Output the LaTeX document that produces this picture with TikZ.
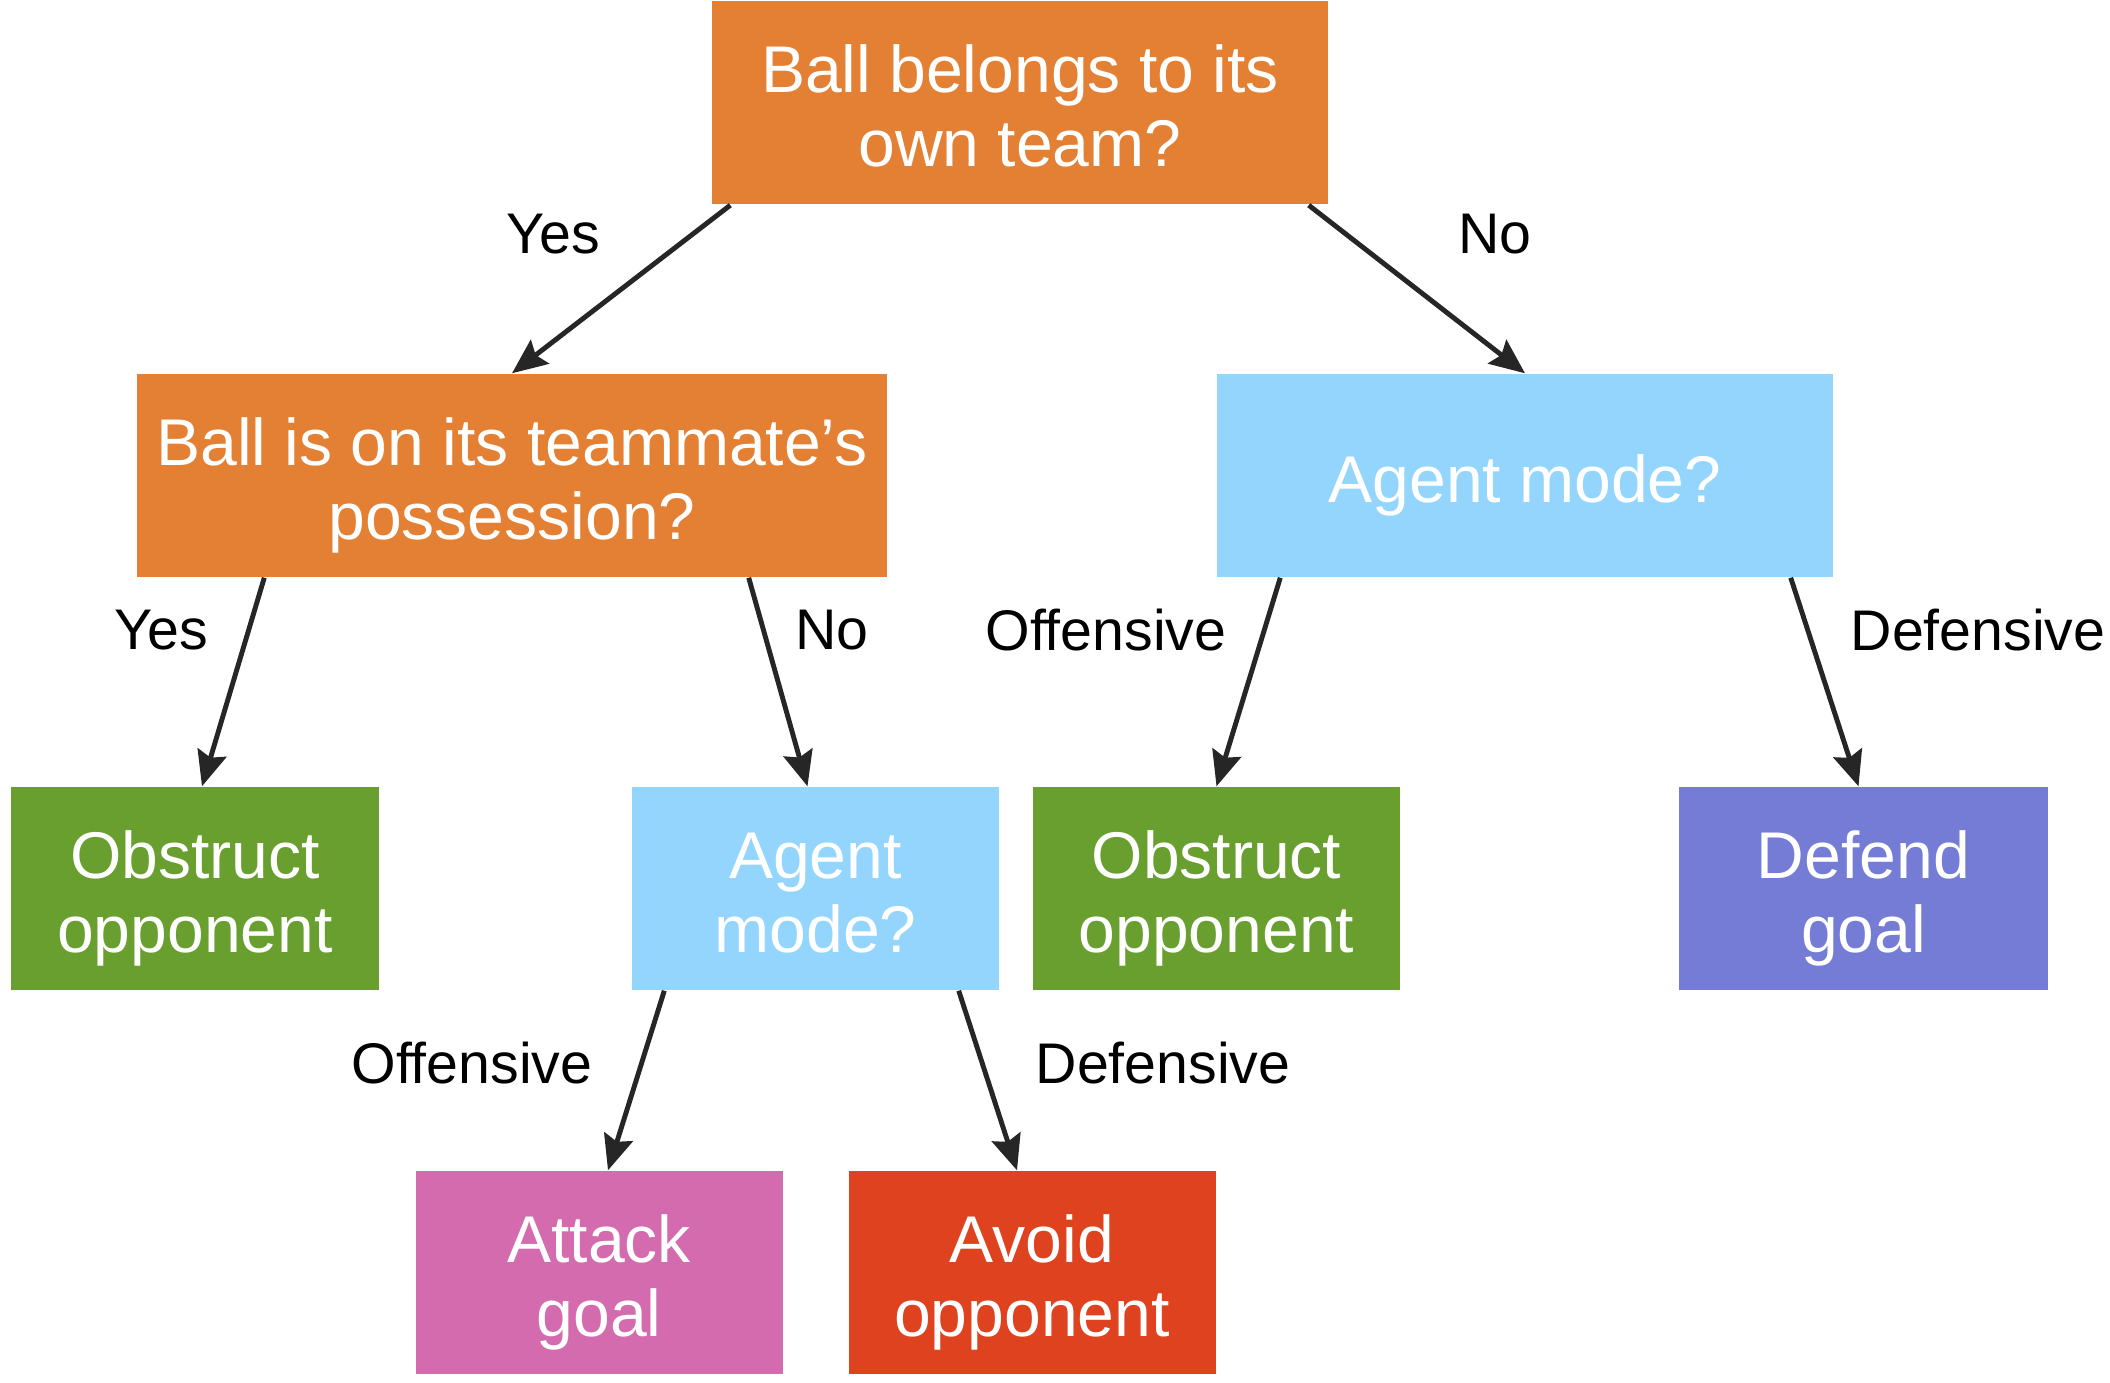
\documentclass[tikz,border=0pt]{standalone}
\usepackage{fontspec}
\setmainfont{Liberation Sans}
\usetikzlibrary{arrows.meta,positioning}
\definecolor{carrot}{RGB}{227,128,51}
\definecolor{sky}{RGB}{147,213,253}
\definecolor{moss}{RGB}{104,159,46}
\definecolor{iris}{RGB}{116,124,214}
\definecolor{orchid}{RGB}{212,107,175}
\definecolor{tomato}{RGB}{222,66,30}
\definecolor{ink}{RGB}{38,38,38}

\begin{document}
\begin{tikzpicture}[>={Stealth[length=10pt,width=8.5pt,inset=1.5pt]},link/.style={->,line width=1.4pt,ink}]
        \useasboundingbox (0,0) rectangle (21.1,13.82);
        \foreach \n/\t/\c/\w/\x/\y in {root/{Ball belongs to its\\own team?}/carrot/6.16/10.20/12.79,leftq/{Ball is on its teammate’s\\possession?}/carrot/7.50/5.12/9.065,rightq/{Agent mode?}/sky/6.16/15.25/9.065,obsA/{Obstruct\\opponent}/moss/3.67/1.95/4.935,agent/{Agent\\mode?}/sky/3.67/8.155/4.935,obsB/{Obstruct\\opponent}/moss/3.67/12.165/4.935,defend/{Defend\\goal}/iris/3.69/18.635/4.935,attack/{Attack\\goal}/orchid/3.67/5.99/1.095,avoid/{Avoid\\opponent}/tomato/3.67/10.32/1.095}{
          \node[fill=\c,text=white,minimum width=\w cm,minimum height=2.03cm,inner sep=1mm,align=center,font=\fontsize{18.8}{21}\selectfont] (\n) at (\x,\y) {\rule{0pt}{19.2pt}\t\rule[-4pt]{0pt}{0pt}};
        }
        \foreach \n/\t/\x/\y in {yesA/Yes/5.53/11.48,noA/No/14.95/11.48,yesB/Yes/1.61/7.52,noB/No/8.32/7.52,offB/Offensive/11.06/7.52,defB/Defensive/19.78/7.52,offC/Offensive/4.72/3.19,defC/Defensive/11.63/3.19}{
          \node[font=\fontsize{16.3}{19}\selectfont] (\n) at (\x,\y) {\t};
        }
        \draw[link] ([xshift=0.19cm]root.south west) -- (leftq.north);
        \draw[link] ([xshift=-0.2cm]root.south east) -- (rightq.north);
        \draw[link] ([xshift=1.28cm]leftq.south west) -- ([xshift=0.07cm]obsA.north);
        \draw[link] ([xshift=-1.39cm]leftq.south east) -- ([xshift=-0.08cm]agent.north);
        \draw[link] ([xshift=0.64cm]rightq.south west) -- (obsB.north);
        \draw[link] ([xshift=-0.43cm]rightq.south east) -- ([xshift=-0.05cm]defend.north);
        \draw[link] ([xshift=0.33cm]agent.south west) -- ([xshift=0.09cm]attack.north);
        \draw[link] ([xshift=-0.41cm]agent.south east) -- ([xshift=-0.15cm]avoid.north);
      \end{tikzpicture}
\end{document}
